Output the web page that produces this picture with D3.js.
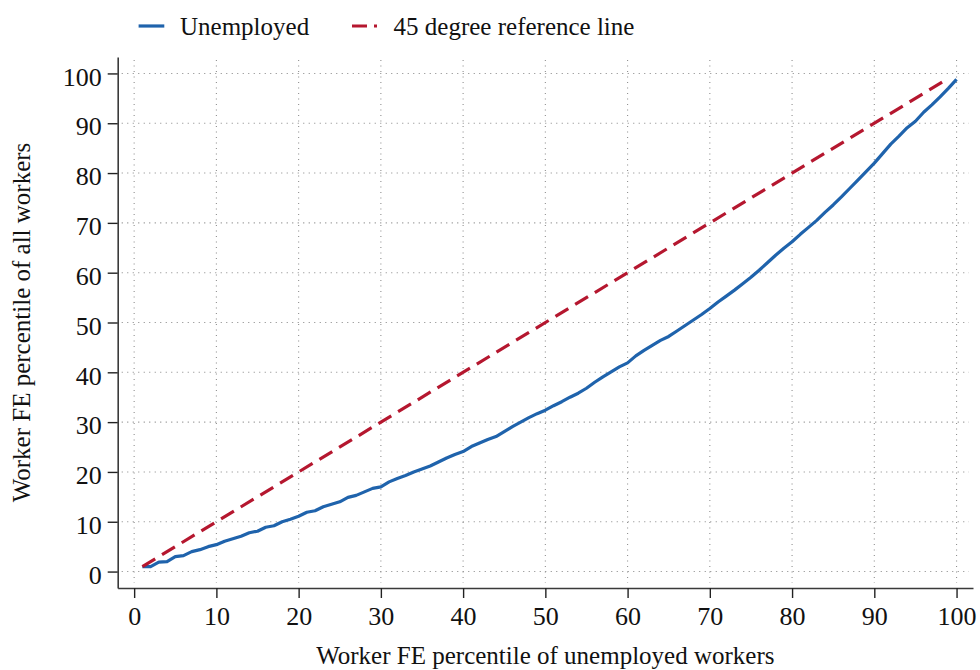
<!DOCTYPE html>
<html>
<head>
<meta charset="utf-8">
<script src="https://cdn.jsdelivr.net/npm/d3@7"></script>
<style>
  body { margin: 0; background: #fff; }
  text { font-family: "Liberation Serif", "Times New Roman", serif; fill: #111; }
</style>
</head>
<body>
<script>
//percentile of unemployed workers (x) and of all workers (y)
var pctUnemployed = [1, 2, 3, 4, 5, 6, 7, 8, 9, 10,
  11, 12, 13, 14, 15, 16, 17, 18, 19, 20,
  21, 22, 23, 24, 25, 26, 27, 28, 29, 30,
  31, 32, 33, 34, 35, 36, 37, 38, 39, 40,
  41, 42, 43, 44, 45, 46, 47, 48, 49, 50,
  51, 52, 53, 54, 55, 56, 57, 58, 59, 60,
  61, 62, 63, 64, 65, 66, 67, 68, 69, 70,
  71, 72, 73, 74, 75, 76, 77, 78, 79, 80,
  81, 82, 83, 84, 85, 86, 87, 88, 89, 90,
  91, 92, 93, 94, 95, 96, 97, 98, 99, 100];
var pctAll = [1.0, 1.0, 1.9, 2.0, 3.0, 3.2, 4.0, 4.4, 5.0, 5.4,
  6.1, 6.6, 7.1, 7.8, 8.1, 8.9, 9.2, 10.0, 10.5, 11.1,
  11.9, 12.2, 13.0, 13.5, 14.0, 14.9, 15.3, 16.0, 16.7, 17.0,
  18.0, 18.7, 19.3, 20.0, 20.6, 21.2, 22.0, 22.8, 23.5, 24.1,
  25.1, 25.8, 26.5, 27.1, 28.1, 29.1, 30.0, 30.9, 31.7, 32.4,
  33.3, 34.1, 35.0, 35.8, 36.8, 38.0, 39.1, 40.1, 41.1, 41.9,
  43.3, 44.4, 45.4, 46.4, 47.2, 48.3, 49.4, 50.5, 51.6, 52.8,
  54.1, 55.3, 56.5, 57.8, 59.1, 60.5, 62.0, 63.5, 64.9, 66.2,
  67.7, 69.1, 70.5, 72.1, 73.6, 75.2, 76.9, 78.6, 80.3, 82.0,
  83.9, 85.8, 87.4, 89.1, 90.4, 92.2, 93.7, 95.3, 97.0, 98.8];

//45 degree reference line end points
var refX = [1, 99];
var refY = [1, 99];

//tick values
var xTicks = [0, 10, 20, 30, 40, 50, 60, 70, 80, 90, 100];
var yTicks = [0, 10, 20, 30, 40, 50, 60, 70, 80, 90, 100];

var W = 980, H = 670;
var blue = "#1f63ac", red = "#b5172f";

var svg = d3.select("body")
  .append("svg")
  .attr("width", W)
  .attr("height", H);

//scales
var x = d3.scaleLinear().domain([-2, 102]).range([117.7, 973]);
var y = d3.scaleLinear().domain([-3.3, 103.3]).range([588, 57]);

//dotted grid
svg.append("g")
  .selectAll("line")
  .data(yTicks)
  .enter()
  .append("line")
  .attr("x1", x.range()[0] + 4)
  .attr("x2", x.range()[1] - 4)
  .attr("y1", function(d) { return y(d); })
  .attr("y2", function(d) { return y(d); })
  .style("stroke", "#8f8f8f")
  .style("stroke-width", 1.1)
  .style("stroke-dasharray", "1.1,4.4");

svg.append("g")
  .selectAll("line")
  .data(xTicks)
  .enter()
  .append("line")
  .attr("x1", function(d) { return x(d); })
  .attr("x2", function(d) { return x(d); })
  .attr("y1", y.range()[1] + 3)
  .attr("y2", y.range()[0] - 5)
  .style("stroke", "#8f8f8f")
  .style("stroke-width", 1.1)
  .style("stroke-dasharray", "1.1,4.4");

//axes
var xAxis = svg.append("g")
  .attr("transform", "translate(0," + y.range()[0] + ")")
  .call(d3.axisBottom(x).tickValues(xTicks).tickSize(10).tickSizeOuter(0).tickPadding(9));

var yAxis = svg.append("g")
  .attr("transform", "translate(" + x.range()[0] + ",0)")
  .call(d3.axisLeft(y).tickValues(yTicks).tickSize(10).tickSizeOuter(0).tickPadding(6));

[xAxis, yAxis].forEach(function(a) {
  a.select(".domain").style("stroke", "#3a3a3a").style("stroke-width", 1.6);
  a.selectAll(".tick line").style("stroke", "#222").style("stroke-width", 1.4);
  a.selectAll(".tick text")
    .style("font-family", "'Liberation Serif', serif")
    .style("font-size", "26px")
    .style("fill", "#111");
});
yAxis.selectAll(".tick text").attr("dy", "0.45em");

//series lines
var line = d3.line()
  .x(function(d) { return x(d[0]); })
  .y(function(d) { return y(d[1]); });

svg.append("path")
  .datum(d3.zip(pctUnemployed, pctAll))
  .attr("d", line)
  .style("fill", "none")
  .style("stroke", blue)
  .style("stroke-width", 3.2)
  .style("stroke-linejoin", "round");

svg.append("path")
  .datum(d3.zip(refX, refY))
  .attr("d", line)
  .style("fill", "none")
  .style("stroke", red)
  .style("stroke-width", 3.2)
  .style("stroke-dasharray", "15,8");

//axis titles
svg.append("text")
  .attr("x", (x.range()[0] + x.range()[1]) / 2)
  .attr("y", 664)
  .style("text-anchor", "middle")
  .style("font-size", "25px")
  .text("Worker FE percentile of unemployed workers");

svg.append("text")
  .attr("transform", "translate(30," + (y.range()[0] + y.range()[1]) / 2 + ") rotate(-90)")
  .style("text-anchor", "middle")
  .style("font-size", "25px")
  .text("Worker FE percentile of all workers");

//legend
var legend = svg.append("g");
legend.append("line")
  .attr("x1", 138.6).attr("x2", 164.3)
  .attr("y1", 26).attr("y2", 26)
  .style("stroke", blue).style("stroke-width", 3.2);
legend.append("text")
  .attr("x", 180).attr("y", 35)
  .style("font-size", "25px")
  .text("Unemployed");
legend.append("line")
  .attr("x1", 352).attr("x2", 377)
  .attr("y1", 26).attr("y2", 26)
  .style("stroke", red).style("stroke-width", 3.2)
  .style("stroke-dasharray", "15,7");
legend.append("text")
  .attr("x", 393.6).attr("y", 35)
  .style("font-size", "25px")
  .text("45 degree reference line");
</script>
</body>
</html>
